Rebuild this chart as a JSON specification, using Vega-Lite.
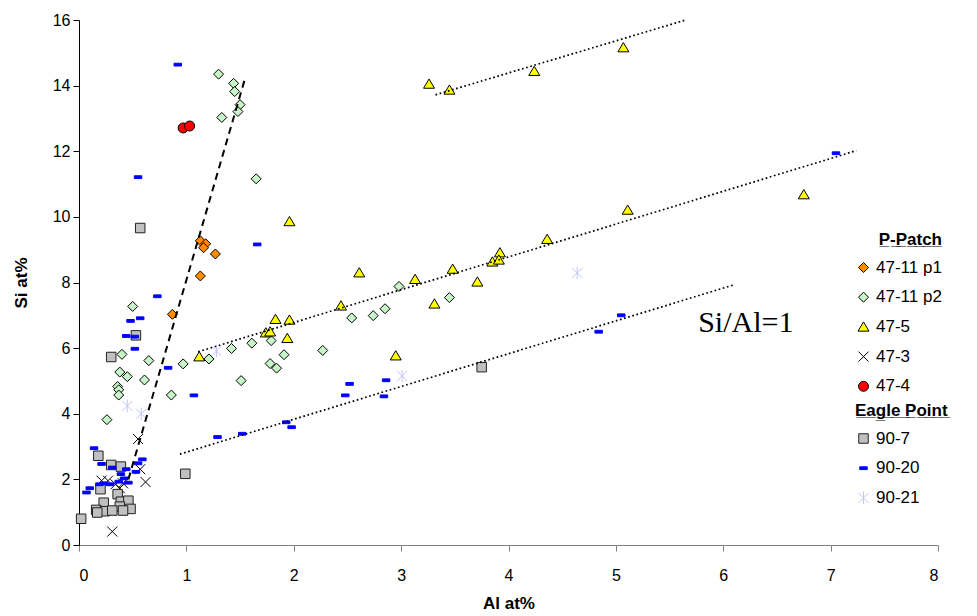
{
  "$schema": "https://vega.github.io/schema/vega-lite/v6.json",
  "width": 859,
  "height": 525,
  "autosize": {"type": "none"},
  "padding": {"left": 79, "top": 20, "right": 39, "bottom": 71},
  "background": "white",
  "datasets": {
    "pp": [
      {"series": "47-11 p1", "Al": 1.13, "Si": 9.27},
      {"series": "47-11 p1", "Al": 1.18, "Si": 9.18},
      {"series": "47-11 p1", "Al": 1.16, "Si": 9.06},
      {"series": "47-11 p1", "Al": 1.27, "Si": 8.87},
      {"series": "47-11 p1", "Al": 1.13, "Si": 8.20},
      {"series": "47-11 p1", "Al": 0.87, "Si": 7.03},
      {"series": "47-11 p2", "Al": 1.30, "Si": 14.35},
      {"series": "47-11 p2", "Al": 1.44, "Si": 14.07},
      {"series": "47-11 p2", "Al": 1.45, "Si": 13.82},
      {"series": "47-11 p2", "Al": 1.50, "Si": 13.42},
      {"series": "47-11 p2", "Al": 1.48, "Si": 13.21},
      {"series": "47-11 p2", "Al": 1.33, "Si": 13.03},
      {"series": "47-11 p2", "Al": 1.65, "Si": 11.16},
      {"series": "47-11 p2", "Al": 0.50, "Si": 7.27},
      {"series": "47-11 p2", "Al": 2.98, "Si": 7.88},
      {"series": "47-11 p2", "Al": 3.45, "Si": 7.54},
      {"series": "47-11 p2", "Al": 2.85, "Si": 7.20},
      {"series": "47-11 p2", "Al": 2.74, "Si": 6.99},
      {"series": "47-11 p2", "Al": 2.54, "Si": 6.92},
      {"series": "47-11 p2", "Al": 2.27, "Si": 5.93},
      {"series": "47-11 p2", "Al": 1.91, "Si": 5.80},
      {"series": "47-11 p2", "Al": 1.79, "Si": 6.23},
      {"series": "47-11 p2", "Al": 1.61, "Si": 6.15},
      {"series": "47-11 p2", "Al": 1.42, "Si": 5.99},
      {"series": "47-11 p2", "Al": 1.21, "Si": 5.67},
      {"series": "47-11 p2", "Al": 0.97, "Si": 5.52},
      {"series": "47-11 p2", "Al": 1.78, "Si": 5.53},
      {"series": "47-11 p2", "Al": 1.84, "Si": 5.39},
      {"series": "47-11 p2", "Al": 1.51, "Si": 5.01},
      {"series": "47-11 p2", "Al": 0.86, "Si": 4.57},
      {"series": "47-11 p2", "Al": 0.40, "Si": 5.81},
      {"series": "47-11 p2", "Al": 0.65, "Si": 5.62},
      {"series": "47-11 p2", "Al": 0.38, "Si": 5.27},
      {"series": "47-11 p2", "Al": 0.45, "Si": 5.13},
      {"series": "47-11 p2", "Al": 0.61, "Si": 5.03},
      {"series": "47-11 p2", "Al": 0.36, "Si": 4.83},
      {"series": "47-11 p2", "Al": 0.37, "Si": 4.73},
      {"series": "47-11 p2", "Al": 0.37, "Si": 4.57},
      {"series": "47-11 p2", "Al": 0.26, "Si": 3.82},
      {"series": "47-5", "Al": 3.26, "Si": 14.05},
      {"series": "47-5", "Al": 3.45, "Si": 13.87},
      {"series": "47-5", "Al": 4.24, "Si": 14.44},
      {"series": "47-5", "Al": 5.07, "Si": 15.16},
      {"series": "47-5", "Al": 1.96, "Si": 9.86},
      {"series": "47-5", "Al": 2.61, "Si": 8.30},
      {"series": "47-5", "Al": 3.13, "Si": 8.10},
      {"series": "47-5", "Al": 2.44, "Si": 7.29},
      {"series": "47-5", "Al": 1.83, "Si": 6.88},
      {"series": "47-5", "Al": 1.96, "Si": 6.86},
      {"series": "47-5", "Al": 1.74, "Si": 6.47},
      {"series": "47-5", "Al": 1.78, "Si": 6.50},
      {"series": "47-5", "Al": 1.94, "Si": 6.30},
      {"series": "47-5", "Al": 1.12, "Si": 5.74},
      {"series": "47-5", "Al": 2.95, "Si": 5.77},
      {"series": "47-5", "Al": 3.48, "Si": 8.41},
      {"series": "47-5", "Al": 3.71, "Si": 8.02},
      {"series": "47-5", "Al": 3.31, "Si": 7.35},
      {"series": "47-5", "Al": 3.85, "Si": 8.63},
      {"series": "47-5", "Al": 3.92, "Si": 8.91},
      {"series": "47-5", "Al": 3.91, "Si": 8.69},
      {"series": "47-5", "Al": 4.36, "Si": 9.32},
      {"series": "47-5", "Al": 5.11, "Si": 10.21},
      {"series": "47-5", "Al": 6.75, "Si": 10.68},
      {"series": "47-3", "Al": 0.55, "Si": 3.23},
      {"series": "47-3", "Al": 0.57, "Si": 2.31},
      {"series": "47-3", "Al": 0.62, "Si": 1.92},
      {"series": "47-3", "Al": 0.31, "Si": 0.41},
      {"series": "47-3", "Al": 0.21, "Si": 1.96},
      {"series": "47-3", "Al": 0.27, "Si": 1.96},
      {"series": "47-3", "Al": 0.34, "Si": 1.85},
      {"series": "47-3", "Al": 0.41, "Si": 1.88},
      {"series": "47-3", "Al": 0.38, "Si": 1.73},
      {"series": "47-4", "Al": 0.97, "Si": 12.71},
      {"series": "47-4", "Al": 1.03, "Si": 12.77}
    ],
    "ep": [
      {"series": "90-7", "Al": 0.57, "Si": 9.66},
      {"series": "90-7", "Al": 0.53, "Si": 6.39},
      {"series": "90-7", "Al": 0.30, "Si": 5.73},
      {"series": "90-7", "Al": 3.75, "Si": 5.42},
      {"series": "90-7", "Al": 0.99, "Si": 2.17},
      {"series": "90-7", "Al": 0.18, "Si": 2.72},
      {"series": "90-7", "Al": 0.30, "Si": 2.44},
      {"series": "90-7", "Al": 0.39, "Si": 2.39},
      {"series": "90-7", "Al": 0.20, "Si": 1.70},
      {"series": "90-7", "Al": 0.36, "Si": 1.55},
      {"series": "90-7", "Al": 0.23, "Si": 1.29},
      {"series": "90-7", "Al": 0.39, "Si": 1.32},
      {"series": "90-7", "Al": 0.46, "Si": 1.35},
      {"series": "90-7", "Al": 0.38, "Si": 1.17},
      {"series": "90-7", "Al": 0.48, "Si": 1.10},
      {"series": "90-7", "Al": 0.16, "Si": 1.07},
      {"series": "90-7", "Al": 0.24, "Si": 1.03},
      {"series": "90-7", "Al": 0.31, "Si": 1.05},
      {"series": "90-7", "Al": 0.41, "Si": 1.05},
      {"series": "90-7", "Al": 0.17, "Si": 0.99},
      {"series": "90-7", "Al": 0.02, "Si": 0.80},
      {"series": "90-20", "Al": 0.92, "Si": 14.64},
      {"series": "90-20", "Al": 0.55, "Si": 11.21},
      {"series": "90-20", "Al": 1.66, "Si": 9.16},
      {"series": "90-20", "Al": 0.73, "Si": 7.58},
      {"series": "90-20", "Al": 0.48, "Si": 6.83},
      {"series": "90-20", "Al": 0.57, "Si": 6.91},
      {"series": "90-20", "Al": 0.44, "Si": 6.37},
      {"series": "90-20", "Al": 0.52, "Si": 6.35},
      {"series": "90-20", "Al": 0.52, "Si": 5.98},
      {"series": "90-20", "Al": 0.83, "Si": 5.40},
      {"series": "90-20", "Al": 1.07, "Si": 4.56},
      {"series": "90-20", "Al": 0.14, "Si": 2.95},
      {"series": "90-20", "Al": 2.52, "Si": 4.91},
      {"series": "90-20", "Al": 2.48, "Si": 4.56},
      {"series": "90-20", "Al": 2.86, "Si": 5.02},
      {"series": "90-20", "Al": 2.84, "Si": 4.53},
      {"series": "90-20", "Al": 4.84, "Si": 6.50},
      {"series": "90-20", "Al": 5.05, "Si": 7.00},
      {"series": "90-20", "Al": 7.05, "Si": 11.94},
      {"series": "90-20", "Al": 1.29, "Si": 3.29},
      {"series": "90-20", "Al": 1.52, "Si": 3.39},
      {"series": "90-20", "Al": 1.93, "Si": 3.74},
      {"series": "90-20", "Al": 1.98, "Si": 3.59},
      {"series": "90-20", "Al": 0.21, "Si": 2.47},
      {"series": "90-20", "Al": 0.10, "Si": 1.73},
      {"series": "90-20", "Al": 0.07, "Si": 1.60},
      {"series": "90-20", "Al": 0.59, "Si": 2.61},
      {"series": "90-20", "Al": 0.55, "Si": 2.49},
      {"series": "90-20", "Al": 0.44, "Si": 2.31},
      {"series": "90-20", "Al": 0.39, "Si": 2.16},
      {"series": "90-20", "Al": 0.53, "Si": 2.23},
      {"series": "90-20", "Al": 0.42, "Si": 2.03},
      {"series": "90-20", "Al": 0.37, "Si": 1.93},
      {"series": "90-20", "Al": 0.23, "Si": 1.88},
      {"series": "90-20", "Al": 0.29, "Si": 1.85},
      {"series": "90-20", "Al": 0.19, "Si": 1.85},
      {"series": "90-20", "Al": 0.46, "Si": 1.90},
      {"series": "90-20", "Al": 0.31, "Si": 2.36},
      {"series": "90-21", "Al": 0.45, "Si": 4.24},
      {"series": "90-21", "Al": 0.58, "Si": 4.00},
      {"series": "90-21", "Al": 1.28, "Si": 5.91},
      {"series": "90-21", "Al": 3.01, "Si": 5.15},
      {"series": "90-21", "Al": 4.64, "Si": 8.29}
    ],
    "lines": [
      {"line": "A", "style": "dotted", "Al": 3.32, "Si": 13.72},
      {"line": "A", "style": "dotted", "Al": 5.65, "Si": 16.0},
      {"line": "B", "style": "dotted", "Al": 1.11, "Si": 5.89},
      {"line": "B", "style": "dotted", "Al": 7.24, "Si": 12.02},
      {"line": "C", "style": "dotted", "Al": 0.94, "Si": 2.77},
      {"line": "C", "style": "dotted", "Al": 6.10, "Si": 7.93},
      {"line": "D", "style": "dashed", "Al": 0.46, "Si": 2.0},
      {"line": "D", "style": "dashed", "Al": 1.55, "Si": 14.26}
    ],
    "note": [
      {"label": "Si/Al=1", "Al": 6.21, "Si": 6.48}
    ]
  },
  "encoding": {
    "x": {
      "field": "Al", "type": "quantitative",
      "scale": {"domain": [0, 8], "nice": false, "zero": false},
      "axis": {
        "title": "Al at%", "values": [0, 1, 2, 3, 4, 5, 6, 7, 8], "grid": false,
        "domainColor": "#808080", "tickColor": "#808080", "tickSize": 6,
        "labelPadding": 16, "labelFontSize": 16, "labelColor": "#000000",
        "titleFontSize": 17, "titleFontWeight": "bold", "titleColor": "#000000", "titlePadding": 12
      }
    },
    "y": {
      "field": "Si", "type": "quantitative",
      "scale": {"domain": [0, 16], "nice": false, "zero": false},
      "axis": {
        "title": "Si at%", "values": [0, 2, 4, 6, 8, 10, 12, 14, 16], "grid": false,
        "domainColor": "#000000", "tickColor": "#000000", "tickSize": 6,
        "labelPadding": 3, "labelFontSize": 16, "labelColor": "#000000",
        "titleFontSize": 17, "titleFontWeight": "bold", "titleColor": "#000000", "titlePadding": 22
      }
    }
  },
  "layer": [
    {
      "data": {"name": "pp"},
      "mark": {"type": "point", "filled": true, "opacity": 1, "size": 100, "strokeWidth": 1},
      "encoding": {
        "shape": {
          "field": "series", "type": "nominal",
          "scale": {
            "domain": ["47-11 p1", "47-11 p2", "47-5", "47-3", "47-4"],
            "range": [
              "M0,-1L1,0L0,1L-1,0Z",
              "M0,-1L1,0L0,1L-1,0Z",
              "M0,-1L1.1,0.85L-1.1,0.85Z",
              "M-1,-1L1,1M-1,1L1,-1",
              "circle"
            ]
          },
          "legend": {
            "title": "P\u0332-\u0332P\u0332a\u0332t\u0332c\u0332h\u0332", "titleAnchor": "end",
            "orient": "none", "legendX": 776, "legendY": 212
          }
        },
        "fill": {
          "field": "series", "type": "nominal",
          "scale": {
            "domain": ["47-11 p1", "47-11 p2", "47-5", "47-3", "47-4"],
            "range": ["#FF8C00", "#C8F5C8", "#FFFF00", "transparent", "#FF0000"]
          },
          "legend": {
            "title": "P\u0332-\u0332P\u0332a\u0332t\u0332c\u0332h\u0332", "titleAnchor": "end",
            "orient": "none", "legendX": 776, "legendY": 212
          }
        },
        "stroke": {
          "field": "series", "type": "nominal",
          "scale": {
            "domain": ["47-11 p1", "47-11 p2", "47-5", "47-3", "47-4"],
            "range": ["#000000", "#000000", "#000000", "#000000", "#000000"]
          },
          "legend": {
            "title": "P\u0332-\u0332P\u0332a\u0332t\u0332c\u0332h\u0332", "titleAnchor": "end",
            "orient": "none", "legendX": 776, "legendY": 212
          }
        }
      }
    },
    {
      "data": {"name": "ep"},
      "mark": {"type": "point", "filled": true, "opacity": 1, "size": 100, "strokeWidth": 1},
      "encoding": {
        "shape": {
          "field": "series", "type": "nominal",
          "scale": {
            "domain": ["90-7", "90-20", "90-21"],
            "range": [
              "M-0.95,-0.95H0.95V0.95H-0.95Z",
              "M-0.75,-0.28H0.75V0.28H-0.75Z",
              "M-1,-1L1,1M-1,1L1,-1M0,-1.25V1.25"
            ]
          },
          "legend": {
            "title": "E\u0332a\u0332g\u0332l\u0332e\u0332 \u0332P\u0332o\u0332i\u0332n\u0332t\u0332",
            "orient": "none", "legendX": 776, "legendY": 383
          }
        },
        "fill": {
          "field": "series", "type": "nominal",
          "scale": {
            "domain": ["90-7", "90-20", "90-21"],
            "range": ["#C0C0C0", "#0000FF", "transparent"]
          },
          "legend": {
            "title": "E\u0332a\u0332g\u0332l\u0332e\u0332 \u0332P\u0332o\u0332i\u0332n\u0332t\u0332",
            "orient": "none", "legendX": 776, "legendY": 383
          }
        },
        "stroke": {
          "field": "series", "type": "nominal",
          "scale": {
            "domain": ["90-7", "90-20", "90-21"],
            "range": ["#222222", "#0000FF", "#C4C4F8"]
          },
          "legend": {
            "title": "E\u0332a\u0332g\u0332l\u0332e\u0332 \u0332P\u0332o\u0332i\u0332n\u0332t\u0332",
            "orient": "none", "legendX": 776, "legendY": 383
          }
        }
      }
    },
    {
      "data": {"name": "lines"},
      "transform": [{"filter": "datum.style === 'dotted'"}],
      "mark": {"type": "line", "color": "#000000", "strokeWidth": 1.7, "strokeDash": [1.7, 2.6]},
      "encoding": {"detail": {"field": "line", "type": "nominal"}}
    },
    {
      "data": {"name": "lines"},
      "transform": [{"filter": "datum.style === 'dashed'"}],
      "mark": {"type": "line", "color": "#000000", "strokeWidth": 2, "strokeDash": [7, 5]},
      "encoding": {"detail": {"field": "line", "type": "nominal"}}
    },
    {
      "data": {"name": "note"},
      "mark": {"type": "text", "font": "Liberation Serif", "fontSize": 30, "align": "center", "baseline": "alphabetic", "color": "#000000"},
      "encoding": {"text": {"field": "label", "type": "nominal"}}
    }
  ],
  "resolve": {
    "scale": {"shape": "independent", "fill": "independent", "stroke": "independent"},
    "legend": {"shape": "independent", "fill": "independent", "stroke": "independent"}
  },
  "config": {
    "view": {"stroke": null},
    "font": "Liberation Sans",
    "axis": {"labelFont": "Liberation Sans", "titleFont": "Liberation Sans"},
    "legend": {
      "labelFont": "Liberation Sans", "labelFontSize": 17, "labelColor": "#000000", "labelOffset": 4,
      "titleFont": "Liberation Sans", "titleFontSize": 17, "titleFontWeight": "bold", "titleColor": "#000000",
      "titlePadding": 10, "rowPadding": 11.7, "padding": 0, "symbolStrokeWidth": 1, "symbolSize": 100,
      "titleLimit": 300, "labelLimit": 200
    }
  }
}
